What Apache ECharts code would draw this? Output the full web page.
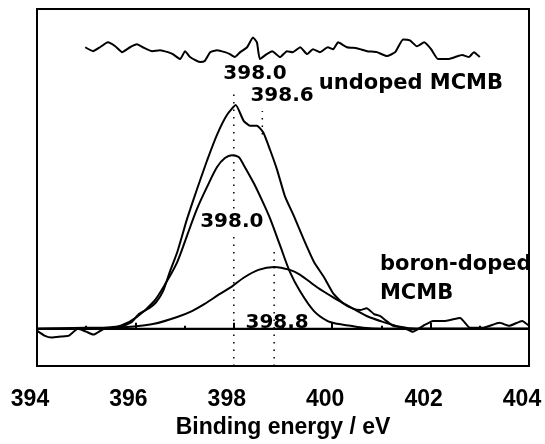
<!DOCTYPE html>
<html>
<head>
<meta charset="UTF-8">
<title>N1s XPS</title>
</head>
<body style="margin:0;background:#fff">
<div id="main" style="width:545px;height:444px;"></div>
<script src="https://cdn.jsdelivr.net/npm/echarts@6/dist/echarts.min.js"></script>
<script>
    // undoped MCMB (raw, offset upward)
    var undoped = [[394.98,287],[395.14,283],[395.28,287],[395.44,292],[395.59,288],[395.73,282],[395.89,287],[396.03,290],[396.15,287],[396.34,283],[396.50,284],[396.66,282],[396.76,280],[396.91,275],[397.01,283],[397.11,277],[397.31,272],[397.41,273],[397.52,282],[397.66,284],[397.82,282],[397.92,280],[398.02,277],[398.13,282],[398.27,287],[398.39,297],[398.47,292],[398.53,275],[398.67,280],[398.78,283],[398.94,277],[399.08,283],[399.20,282],[399.35,287],[399.49,280],[399.61,285],[399.75,282],[399.91,287],[400.02,285],[400.12,292],[400.30,287],[400.50,286],[400.71,283],[400.91,282],[401.11,278],[401.28,282],[401.44,295],[401.58,294],[401.72,288],[401.87,292],[402.01,285],[402.15,275],[402.35,275],[402.50,277],[402.64,279],[402.78,277],[402.88,282],[403.00,277]];

    // boron-doped MCMB (raw)
    var doped = [[394.00,-2],[394.15,-7],[394.30,-9],[394.48,-8],[394.65,-7],[394.83,0],[395.00,-3],[395.15,-6],[395.36,0],[395.55,1],[395.71,2],[395.93,7],[396.07,15],[396.28,21],[396.42,27],[396.56,38],[396.70,58],[396.85,78],[397.05,112],[397.25,142],[397.46,172],[397.66,198],[397.86,218],[398.04,228],[398.20,212],[398.33,207],[398.47,207],[398.60,200],[398.74,182],[398.88,162],[399.04,135],[399.22,115],[399.43,90],[399.63,68],[399.84,52],[400.02,36],[400.22,26],[400.40,21],[400.57,19],[400.70,21],[400.85,15],[400.97,13],[401.10,8],[401.24,3],[401.45,1],[401.64,-3],[401.85,3],[402.05,8],[402.30,8],[402.60,11],[402.80,1],[403.07,1],[403.40,6],[403.60,3],[403.86,8],[404.00,3]];

    // fitted components
    var peak1 = [[394.0,0],[395.0,0],[395.4,1],[395.7,3],[396.03,12],[396.38,28],[396.6,45],[396.85,68],[397.05,95],[397.25,122],[397.46,145],[397.66,165],[397.82,174],[397.96,177],[398.1,175],[398.2,167],[398.41,148],[398.6,128],[398.74,112],[398.94,85],[399.14,58],[399.35,38],[399.63,18],[399.9,8],[400.1,5],[400.37,3],[400.63,1],[401.0,0],[404.0,0]];
    var peak2 = [[394.0,0],[395.0,1],[395.5,1],[395.9,2],[396.38,5],[396.85,12],[397.15,18],[397.4,25],[397.7,35],[397.96,43],[398.2,52],[398.5,60],[398.82,63],[399.14,60],[399.35,55],[399.7,42],[400.02,32],[400.37,22],[400.7,13],[401.03,7],[401.38,2],[401.7,0],[404.0,0]];
    var baseline = [[394,0],[404,0]];

    // dotted position markers
    var markX = [398.0, 398.58, 398.82];
    var markBottom = [-38, 198, -38];
    var markTop = [242, 222, 82];

    // annotations
    var annoText = ['398.0', '398.6', 'undoped MCMB', '398.0', '398.8', 'boron-doped', 'MCMB'];
    var annoX = [398.43, 398.98, 401.60, 397.96, 398.88, 400.97, 400.97];
    var annoY = [260, 238, 250, 109, 6, 65, 36];

    var xTicks = [394, 396, 398, 400, 402, 404];

    var myChart = echarts.init(document.getElementById('main'));

    var lineStyle = {color: '#000', width: 2};
    var series = [];
    [undoped, doped, peak1, peak2, baseline].forEach(function (d, i) {
        series.push({
            type: 'line',
            data: d,
            symbol: 'none',
            smooth: i >= 2 ? 0.3 : 0.15,
            lineStyle: lineStyle,
            silent: true,
            z: 3
        });
    });
    markX.forEach(function (x, i) {
        series.push({
            type: 'line',
            data: [[x, markBottom[i]], [x, markTop[i]]],
            symbol: 'none',
            lineStyle: {color: '#000', width: 1.5, type: [1.5, 6]},
            z: 2
        });
    });
    var annoData = annoText.map(function (t, i) {
        var word = /[a-z]/i.test(t);
        return {
            name: t,
            value: [annoX[i], annoY[i]],
            label: {
                align: i >= 5 ? 'left' : 'center',
                fontSize: word ? 21 : 20,
                backgroundColor: i === 3 ? '#fff' : 'transparent'
            }
        };
    });
    series.push({
        type: 'scatter',
        data: annoData,
        symbolSize: 0,
        itemStyle: {opacity: 1},
        z: 5,
        label: {
            show: true,
            position: 'inside',
            formatter: '{b}',
            color: '#000',
            opacity: 1,
            fontFamily: 'DejaVu Sans',
            fontWeight: 'bold',
            verticalAlign: 'middle'
        }
    });

    var option = {
        animation: false,
        grid: {
            left: 37, right: 16, top: 9, bottom: 71,
            show: true, borderColor: '#000', borderWidth: 2
        },
        xAxis: {
            type: 'value',
            min: 394, max: 404, interval: 2,
            name: 'Binding energy / eV',
            nameLocation: 'middle',
            nameGap: 50,
            nameTextStyle: {fontFamily: 'Liberation Sans', fontWeight: 'bold', fontSize: 23, color: '#000'},
            axisLine: {lineStyle: {color: '#000', width: 2}},
            axisTick: {inside: true, length: 6, lineStyle: {color: '#000', width: 2}},
            minorTick: {show: true, splitNumber: 2, length: 3, lineStyle: {color: '#000', width: 2}},
            splitLine: {show: false},
            axisLabel: {
                margin: 22,
                padding: [0, 14, 0, 0],
                fontFamily: 'Liberation Sans', fontWeight: 'bold', fontSize: 23, color: '#000',
                formatter: function (v) { return xTicks.indexOf(v) >= 0 ? String(v) : ''; }
            }
        },
        yAxis: {
            type: 'value',
            min: -38, max: 326,
            show: false,
            splitLine: {show: false}
        },
        series: series
    };

    myChart.setOption(option);
</script>
</body>
</html>
